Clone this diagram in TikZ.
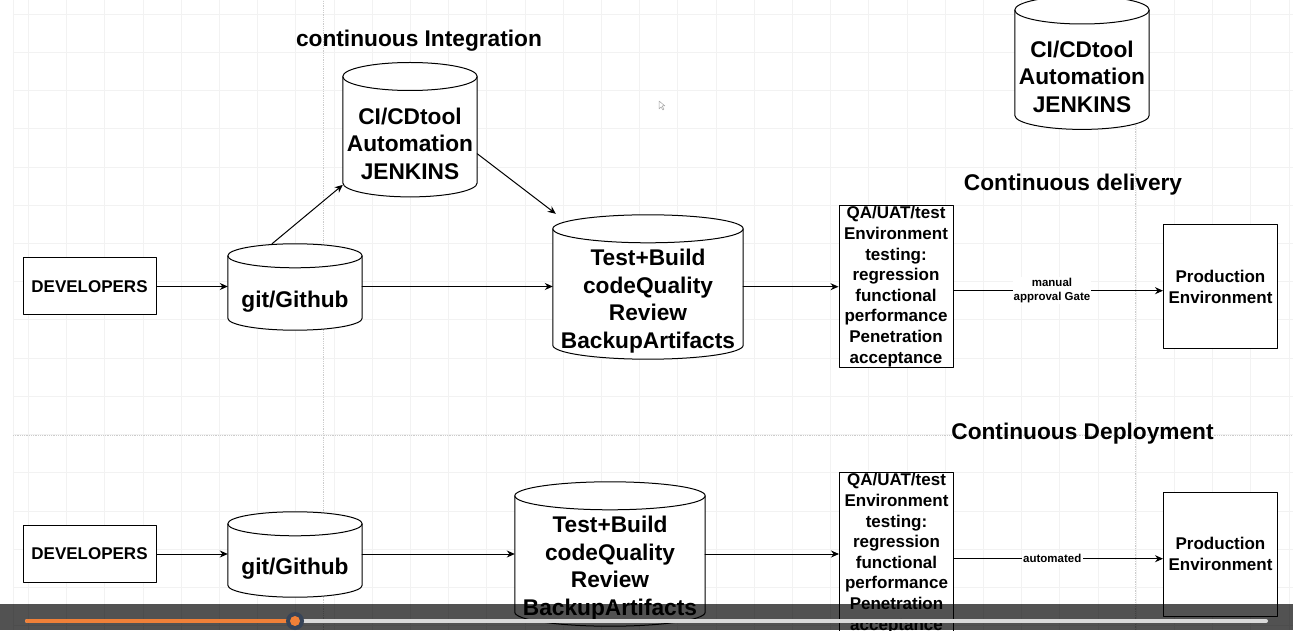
\documentclass[tikz,border=0pt]{standalone}
\usepackage{fontspec}
\setmainfont{Liberation Sans}
\usetikzlibrary{arrows.meta,calc,backgrounds}
\definecolor{barorange}{RGB}{240,128,56}
\definecolor{knobring}{RGB}{55,68,88}
\begin{document}
\begin{tikzpicture}[line cap=round,line join=round,x=1pt,y=1pt,>={Stealth[length=8pt,width=7pt]},font=\bfseries,
  box/.style={draw,fill=white,line width=1pt,inner sep=1pt,align=center},
  cyl/.style={inner sep=1pt,align=center},
  big/.style={font=\fontsize{22.7}{27.5}\selectfont\bfseries},
  mid/.style={font=\fontsize{17}{20.6}\selectfont\bfseries},
  small/.style={font=\fontsize{11.5}{14.5}\selectfont\bfseries},
  arr/.style={->,line width=1pt},
  gridline/.style={gray!10,line width=0.8pt},
  pageline/.style={gray!40,densely dotted,line width=0.8pt}]
\path[use as bounding box,clip] (0,0) rectangle (1293,630);
\node[big,anchor=base] (tci) at (419,583) {continuous Integration};
\node[big,anchor=base] (tcd) at (1073,439) {Continuous delivery};
\node[big,anchor=base] (tdep) at (1082.5,191) {Continuous Deployment};
\node[box,mid,minimum width=133,minimum height=57] (dev) at (89.5,343.5) {DEVELOPERS};
\node[cyl,big,text depth=0pt,minimum width=134,minimum height=62] (git) at (295,331) {git/Github};
\node[cyl,big,minimum width=134,minimum height=106] (ci) at (410,486.3) {CI/CDtool\\Automation\\JENKINS};
\node[cyl,big,minimum width=190,minimum height=116] (test) at (648,329) {Test+Build\\codeQuality\\Review\\BackupArtifacts};
\node[box,mid,minimum width=114,minimum height=162] (qa) at (896,343.3) {QA/UAT/test\\Environment\\testing:\\regression\\functional\\performance\\Penetration\\acceptance};
\node[box,mid,minimum width=114,minimum height=124] (prod) at (1220.5,343.3) {Production\\Environment};
\node[cyl,big,minimum width=134,minimum height=105] (ci2) at (1082,553.3) {CI/CDtool\\Automation\\JENKINS};
\node[box,mid,minimum width=133,minimum height=57] (devb) at (89.5,76) {DEVELOPERS};
\node[cyl,big,text depth=0pt,minimum width=134,minimum height=61] (gitb) at (295,63.5) {git/Github};
\node[cyl,big,minimum width=190,minimum height=116] (testb) at (610,62) {Test+Build\\codeQuality\\Review\\BackupArtifacts};
\node[box,mid,minimum width=114,minimum height=162] (qab) at (896.5,76.3) {QA/UAT/test\\Environment\\testing:\\regression\\functional\\performance\\Penetration\\acceptance};
\node[box,mid,minimum width=114,minimum height=124] (prodb) at (1220.5,75.8) {Production\\Environment};
\draw[arr] (dev) -- (dev -| git.west);
\draw[arr] (dev -| git.east) -- (dev -| test.west);
\draw[arr] ($(git.north)+(-23,24)$) -- ($(ci.south west)+(0,12)$);
\draw[arr] ($(ci.east)+(0,-10)$) -- ($(test.north west)+(3,29)$);
\draw[arr] (qa -| test.east) -- (qa);
\draw[arr] ([yshift=-4pt]qa.east) -- ([yshift=-4pt]qa.east -| prod.west) node[pos=0.47,small,fill=white,inner sep=1pt,align=center] (gate) {manual\\approval Gate};
\draw[arr] (devb) -- (devb -| gitb.west);
\draw[arr] (devb -| gitb.east) -- (devb -| testb.west);
\draw[arr] (devb -| testb.east) -- (devb -| qab.west);
\draw[arr] ([yshift=-5pt]qab.east) -- ([yshift=-5pt]qab.east -| prodb.west) node[pos=0.47,small,fill=white,inner sep=1.5pt] (auto) {automated};
\begin{scope}[on background layer]
\fill[white] (0,0) rectangle (1293,630);
\foreach \i in {0,...,33} \draw[gridline] (28.3+38.2*\i,0) -- ++(0,630);
\foreach \i in {0,...,16} \draw[gridline] (13,615.7-38.2*\i) -- ++(1280,0);
\draw[gridline] (13,0) -- (13,630);
\draw[pageline] (323,0) -- (323,630) (1135,0) -- (1135,630) (13,195) -- (1293,195);
\foreach \nm/\ry in {ci/14,git/12,test/14,ci2/14,gitb/12,testb/14}{
  \filldraw[fill=white,line width=1pt] let \p1=(\nm.north west), \p2=(\nm.south east), \n1={(\x2-\x1)/2} in
    (\x1,\y1+\ry) -- (\x1,\y2+\ry) arc[start angle=180,end angle=360,x radius=\n1,y radius=\ry pt]
    -- (\x2,\y1+\ry) arc[start angle=0,end angle=180,x radius=\n1,y radius=\ry pt] -- cycle;
  \draw[line width=1pt] let \p1=(\nm.north west), \p2=(\nm.north east), \n1={(\x2-\x1)/2} in
    (\x1,\y1+\ry) arc[start angle=180,end angle=360,x radius=\n1,y radius=\ry pt];
}
\end{scope}
\draw[gray!70,line width=0.5pt,fill=white] (659,529) -- (659,521) -- (661,523) -- (663,520) -- (664,521) -- (662,524) -- (665,524) -- cycle;
\fill[black,opacity=0.68] (0,0) rectangle (1293,25.7);
\draw[line width=4pt,gray!30] (27,9) -- (1266,9);
\draw[line width=4pt,barorange] (27,9) -- (295,9);
\fill[knobring] (295,9) circle (9);
\fill[barorange] (295,9) circle (5);
\end{tikzpicture}
\end{document}
